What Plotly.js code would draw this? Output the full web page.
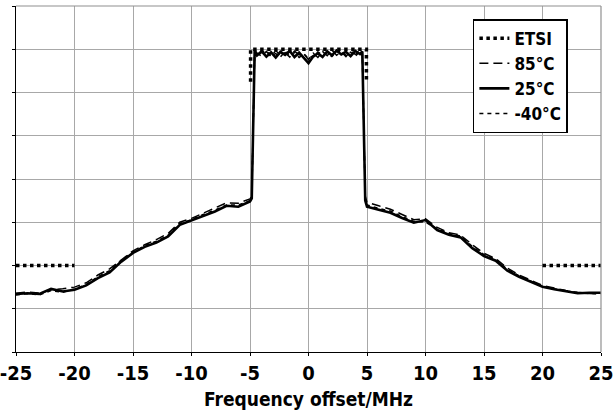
<!DOCTYPE html>
<html>
<head>
<meta charset="utf-8">
<script src="https://cdn.plot.ly/plotly-3.0.1.min.js"></script>
<style>html,body{margin:0;padding:0;background:#fff;}#chart{width:615px;height:417px;}</style>
</head>
<body>
<div id="chart"></div>
<script>
// Frequency offset (MHz) shared by the measured curves
const freq = [-25,-24,-23,-22,-21,-20,-19,-18,-17,-16,-15,-14,-13,-12,-11,-10,-9,-8,-7,-6,-5,
  -4.85,-4.6,
  -4.4,-4.0,-3.6,-3.2,-2.8,-2.4,-2.0,-1.6,-1.2,-0.8,-0.4,0,0.4,0.8,1.2,1.6,2.0,2.4,2.8,3.2,3.6,4.0,4.4,
  4.6,4.85,
  5,6,7,8,9,10,11,12,13,14,15,16,17,18,19,20,21,22,23,24,25];

const t85 = [13.6,13.9,13.6,14.4,14.6,15.0,16.0,17.8,19.2,21.4,23.4,24.8,26.0,27.4,30.0,30.9,32.1,33.2,34.5,34.4,35.4,
  36.0,69.6,
  69.1,68.4,69.5,68.3,69.7,68.6,69.2,68.2,69.6,68.7,69.0,67.6,69.1,68.1,69.5,68.5,69.8,68.6,69.4,68.3,69.6,68.8,69.5,
  69.3,36.0,
  34.6,33.8,33.0,31.8,30.6,30.8,28.8,27.6,27.0,24.8,22.8,21.6,19.4,17.8,16.6,15.4,14.8,14.2,13.8,13.5,13.4];

const t25 = [13.4,13.6,13.4,14.6,14.0,14.4,15.4,17.1,18.4,20.9,22.9,24.3,25.3,26.7,29.4,30.4,31.5,32.5,33.8,33.6,34.8,
  35.5,69.8,
  68.6,69.5,68.3,69.3,68.1,69.4,68.7,69.6,68.2,69.2,68.0,66.8,68.3,69.1,68.2,69.5,68.6,69.7,68.8,69.4,68.4,69.6,68.9,
  69.5,35.0,
  33.6,32.9,32.2,31.0,29.9,30.5,28.2,27.1,26.5,24.0,22.2,21.1,18.8,17.4,16.3,15.1,14.5,14.0,13.6,13.7,13.7];

const tm40 = [13.2,13.5,13.2,14.2,13.8,14.6,15.6,17.4,18.8,21.2,23.1,24.6,25.6,27.0,29.7,30.6,31.8,32.8,34.0,34.0,35.0,
  35.8,69.4,
  68.9,69.3,69.6,68.5,69.0,68.2,69.5,68.6,69.3,68.1,68.9,67.9,68.5,69.4,68.7,69.1,68.3,69.4,69.6,68.6,69.3,68.4,69.5,
  69.2,35.4,
  34.0,33.2,32.6,31.3,30.2,30.0,28.5,27.4,26.8,24.4,22.5,21.4,19.1,17.6,16.4,15.2,14.6,14.1,13.7,13.5,13.5];

// ETSI mask
const etsiX = [-25,-20,null,-4.95,-4.95,4.95,4.95,null,20,25];
const etsiY = [20,20,null,62.5,70,70,62.5,null,20,20];

const xTicks = [-25,-20,-15,-10,-5,0,5,10,15,20,25];
const xTickText = ['-25','-20','-15','-10','-5','0','5','10','15','20','25'];

const FONT = '"DejaVu Sans Condensed", "DejaVu Sans", sans-serif';

const traces = [
  {x: etsiX, y: etsiY, name: 'ETSI', mode: 'lines', line: {color: '#000', width: 3.5, dash: 'dot'}, connectgaps: false},
  {x: freq, y: t85, name: '85°C', mode: 'lines', line: {color: '#000', width: 1.5, dash: '9px,5px'}},
  {x: freq, y: t25, name: '25°C', mode: 'lines', line: {color: '#000', width: 2.6}},
  {x: freq, y: tm40, name: '-40°C', mode: 'lines', line: {color: '#000', width: 1.5, dash: '4px,4px'}}
];

const layout = {
  width: 615, height: 417,
  margin: {l: 16, r: 14, t: 6, b: 65},
  paper_bgcolor: '#fff', plot_bgcolor: '#fff',
  font: {family: FONT, color: '#000', size: 19, weight: 'bold'},
  showlegend: true,
  legend: {
    x: 0.781, y: 0.962, xanchor: 'left', yanchor: 'top',
    bgcolor: '#fff', bordercolor: '#000', borderwidth: 1.5,
    font: {family: FONT, size: 17, color: '#000', weight: 'bold'},
    tracegroupgap: 0
  },
  xaxis: {
    range: [-25, 25], tickmode: 'array', tickvals: xTicks, ticktext: xTickText,
    showgrid: true, gridcolor: '#a8a8a8', gridwidth: 1,
    showline: true, linecolor: '#000', linewidth: 1.2,
    ticks: 'outside', ticklen: 3, tickcolor: '#000',
    zeroline: false, ticklabeloverflow: 'allow',
    tickfont: {family: FONT, size: 20, color: '#000', weight: 'bold'},
    title: {text: 'Frequency offset/MHz', font: {family: FONT, size: 19, color: '#000', weight: 'bold'}, standoff: 8}
  },
  yaxis: {
    range: [0, 80], dtick: 10, tick0: 0,
    showticklabels: false,
    showgrid: true, gridcolor: '#a8a8a8', gridwidth: 1,
    showline: true, linecolor: '#000', linewidth: 1.2,
    ticks: 'outside', ticklen: 3, tickcolor: '#000',
    zeroline: false
  },
  shapes: [
    {type: 'line', xref: 'paper', yref: 'paper', x0: 0, x1: 1, y0: 1, y1: 1, line: {color: '#909090', width: 1.2}},
    {type: 'line', xref: 'paper', yref: 'paper', x0: 1, x1: 1, y0: 0, y1: 1, line: {color: '#909090', width: 1.2}}
  ]
};

Plotly.newPlot('chart', traces, layout, {displayModeBar: false, staticPlot: true});
</script>
</body>
</html>
